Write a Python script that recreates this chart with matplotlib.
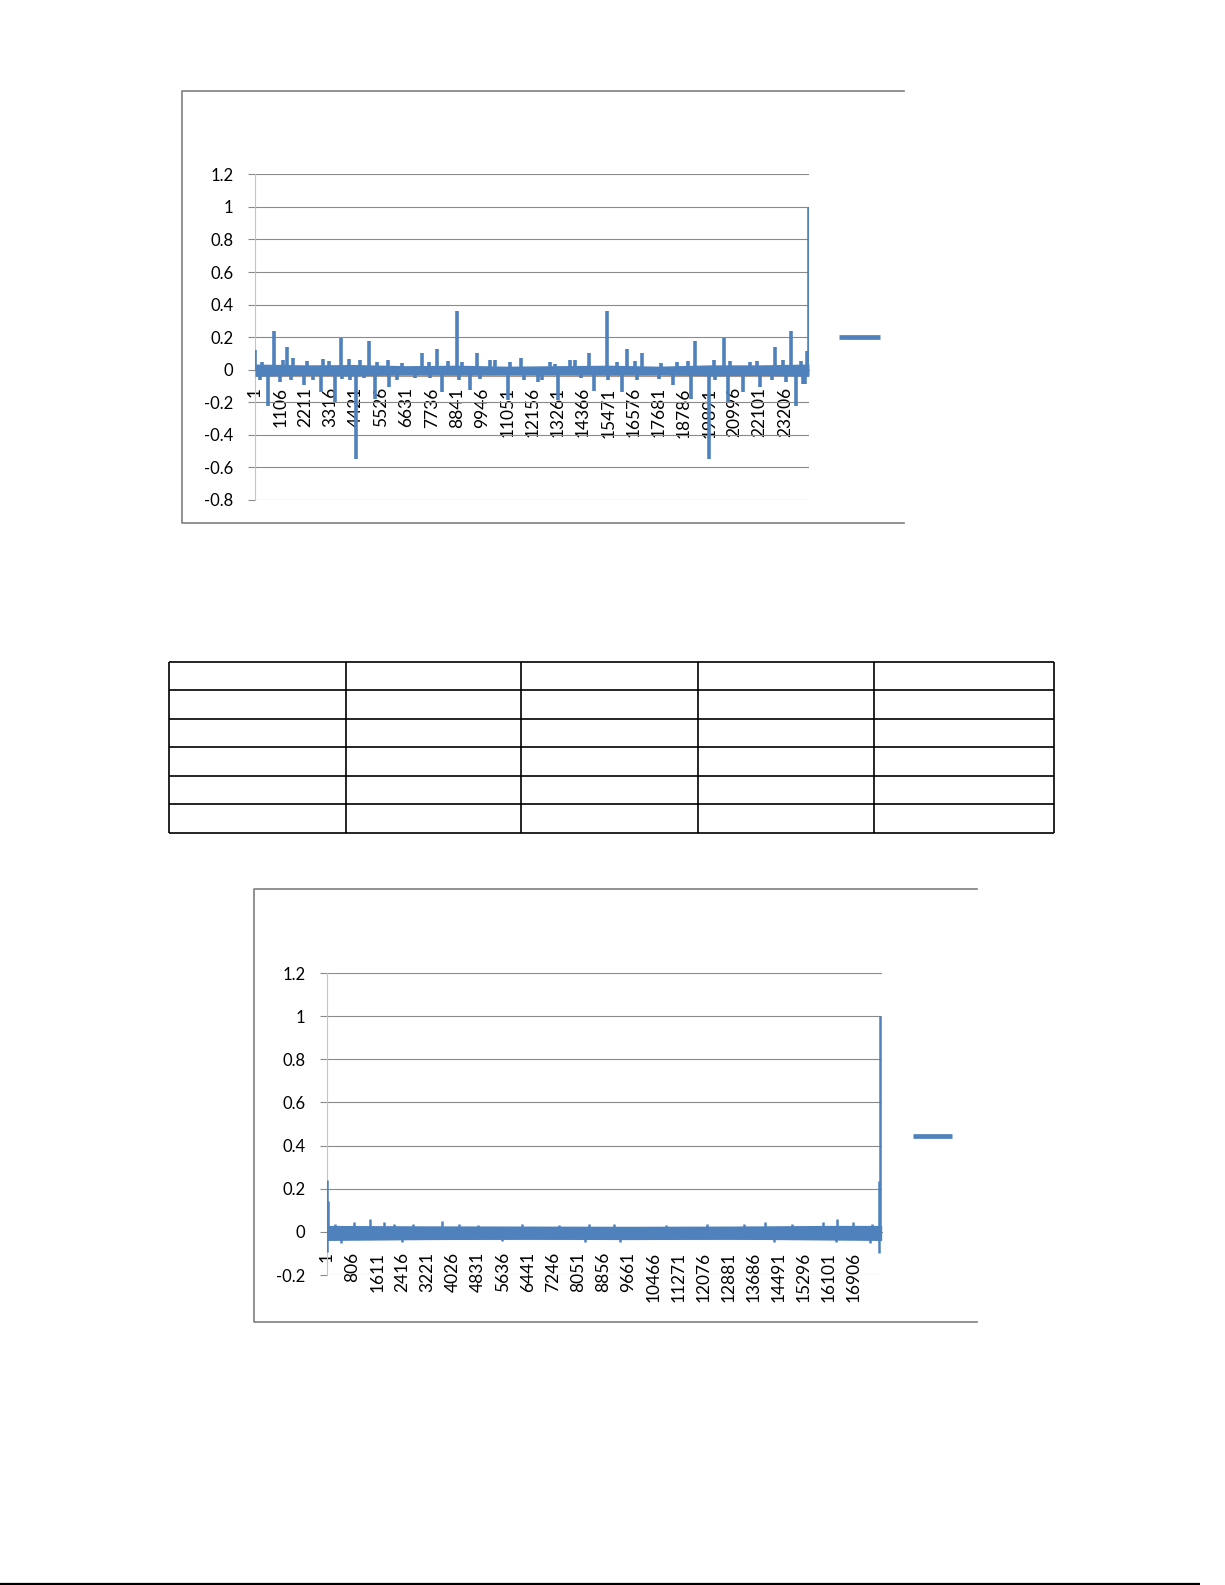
import matplotlib
matplotlib.use('Agg')
import matplotlib.pyplot as plt

plt.rcParams['font.family'] = ['Lato', 'DejaVu Sans']

BLUE = '#4f81bd'
GRID = '#8a8a8a'
TAN = '#a8998c'
FRAME = '#7f7f7f'

# ---------------- chart 1 ----------------
n1 = 24260
x1_ticks = [1, 1106, 2211, 3316, 4421, 5526, 6631, 7736, 8841, 9946, 11051,
            12156, 13261, 14366, 15471, 16576, 17681, 18786, 19891, 20996,
            22101, 23206]
y1_ticks = [-0.8, -0.6, -0.4, -0.2, 0, 0.2, 0.4, 0.6, 0.8, 1.0, 1.2]
y1_labels = ['-0.8', '-0.6', '-0.4', '-0.2', '0', '0.2', '0.4', '0.6', '0.8', '1', '1.2']

peak1_idx = [1, 826, 1416, 1655, 3777, 4973, 7318, 7957, 8850, 9711, 11658,
             14625, 15423, 16300, 16938, 19283, 20527, 22793, 23463, 24159, 24245,
             586, 1097, 2134, 2884, 3522, 4415, 5245, 5851, 8196, 9424, 11067,
             12392, 13269, 14848, 16061, 18326, 19076, 19889, 20719, 21357,
             22107, 23703, 24069]
peak1_val = [0.12, 0.235, 0.14, 0.075, 0.196, 0.176, 0.10, 0.127, 0.36, 0.104, 0.07,
             0.10, 0.36, 0.13, 0.10, 0.176, 0.196, 0.14, 0.237, 0.115, 1.0,
             -0.225, -0.076, -0.096, -0.137, -0.20, -0.546, -0.178, -0.106, -0.137,
             -0.127, -0.188, -0.076, -0.188, -0.13, -0.137, -0.096, -0.178, -0.546,
             -0.20, -0.137, -0.106, -0.225, -0.086]

small1_idx = [299, 1224, 2293, 2979, 3250, 4128, 4606, 5324, 5803, 6441, 7638,
              8435, 9073, 10270, 10509, 11147, 12902, 13141, 13780, 14019, 15853,
              16651, 17768, 18486, 18964, 20081, 20799, 21676, 21995, 23112, 23910,
              219, 1575, 2533, 3809, 4150, 4766, 6202, 6999, 7660, 8914, 9871,
              11785, 12583, 14258, 15455, 16731, 17688, 20161, 22634, 23272, 23990]
small1_val = [0.047, 0.061, 0.053, 0.067, 0.053, 0.067, 0.061, 0.047, 0.061, 0.04, 0.047,
              0.053, 0.047, 0.061, 0.061, 0.047, 0.047, 0.037, 0.061, 0.061, 0.047,
              0.053, 0.04, 0.047, 0.053, 0.061, 0.053, 0.047, 0.053, 0.061, 0.053,
              -0.065, -0.065, -0.061, -0.055, -0.061, -0.049, -0.061, -0.049, -0.049,
              -0.061, -0.055, -0.061, -0.065, -0.049, -0.065, -0.065, -0.055, -0.061,
              -0.065, -0.076, -0.086]

band1_idx = [1, 2211, 4421, 6631, 8841, 11051, 13261, 15471, 17681, 19891, 22101, 24260]
band1_hi = [0.035, 0.030, 0.032, 0.025, 0.028, 0.022, 0.025, 0.028, 0.022, 0.030, 0.030, 0.035]
band1_lo = [-0.040, -0.035, -0.038, -0.030, -0.032, -0.030, -0.030, -0.032, -0.030,
            -0.038, -0.035, -0.040]
trend1_idx = [1, 24260]
trend1_val = [-0.036, -0.036]

# ---------------- chart 2 ----------------
n2 = 17790
x2_ticks = [1, 806, 1611, 2416, 3221, 4026, 4831, 5636, 6441, 7246, 8051, 8856,
            9661, 10466, 11271, 12076, 12881, 13686, 14491, 15296, 16101, 16906]
y2_ticks = [-0.2, 0, 0.2, 0.4, 0.6, 0.8, 1.0, 1.2]
y2_labels = ['-0.2', '0', '0.2', '0.4', '0.6', '0.8', '1', '1.2']

peak2_idx = [1, 6, 40, 17703, 17714, 17735]
peak2_val = [0.24, -0.095, 0.145, 0.235, -0.096, 1.0]

small2_idx = [878, 1365, 1839, 3678, 14060, 15899, 16362, 16860,
              261, 2160, 2753, 4236, 4829, 6253, 7440, 8389, 9219, 10880, 12186,
              13372, 14914, 17465,
              439, 2397, 5600, 8270, 9397, 14321, 16338, 17406]
small2_val = [0.047, 0.06, 0.044, 0.05, 0.048, 0.044, 0.058, 0.047,
              0.036, 0.035, 0.036, 0.035, 0.034, 0.035, 0.034, 0.035, 0.035, 0.034,
              0.035, 0.036, 0.035, 0.038,
              -0.05, -0.047, -0.042, -0.045, -0.047, -0.048, -0.047, -0.05]

band2_idx = [1, 3221, 6441, 9661, 12881, 16101, 17790]
band2_hi = [0.030, 0.028, 0.027, 0.026, 0.027, 0.030, 0.030]
band2_lo = [-0.040, -0.036, -0.034, -0.036, -0.034, -0.038, -0.040]
trend2_idx = [1, 17790]
trend2_val = [-0.034, -0.034]

W, H = 1225, 1585
fig = plt.figure(figsize=(W / 100, H / 100), dpi=100)
fig.patch.set_facecolor('white')


def px_axes(left, top, right, bottom):
    return fig.add_axes([left / W, 1 - bottom / H, (right - left) / W, (bottom - top) / H])


def draw_chart(ax, n, xticks, yticks, ylabels, band_idx, band_hi, band_lo,
               trend_idx, trend_val, small_idx, small_val, peak_idx, peak_val,
               lw, xpad):
    ax.set_facecolor('none')
    # spine position first: moving it resets the tick objects
    for s in ['top', 'right']:
        ax.spines[s].set_visible(False)
    ax.spines['left'].set_color('#c4c4c4')
    ax.spines['left'].set_linewidth(0.8)
    ax.spines['bottom'].set_position(('data', 0))
    ax.spines['bottom'].set_color(GRID)
    ax.spines['bottom'].set_linewidth(0.8)

    ax.set_xlim(0.5, n + 0.5)
    ax.set_ylim(yticks[0], yticks[-1])
    ax.set_yticks(yticks)
    ax.set_yticklabels(ylabels)
    ax.set_xticks(xticks)
    ax.set_xticklabels([str(t) for t in xticks])
    ax.yaxis.grid(True, color=GRID, lw=0.8)
    ax.set_axisbelow(True)
    ax.tick_params(axis='y', length=5, width=0.8, color=GRID, pad=10.6,
                   labelsize=12, labelcolor='black')
    ax.tick_params(axis='x', length=0, pad=xpad, labelsize=12.5, labelcolor='black',
                   labelrotation=90)
    for lab in ax.get_xticklabels():
        lab.set_va('top')
        lab.set_ha('center')

    ax.plot(trend_idx, trend_val, color=TAN, lw=1.5, zorder=2)
    ax.fill_between(band_idx, band_lo, band_hi, color=BLUE, lw=0, zorder=3)
    ax.vlines(small_idx, 0, small_val, color=BLUE, lw=lw, zorder=4)
    ax.vlines(peak_idx, 0, peak_val, color=BLUE, lw=lw, zorder=4)


ax1 = px_axes(255, 174.3, 809, 500)
draw_chart(ax1, n1, x1_ticks, y1_ticks, y1_labels, band1_idx, band1_hi, band1_lo,
           trend1_idx, trend1_val, small1_idx, small1_val, peak1_idx, peak1_val,
           lw=2.6, xpad=12.6)

ax2 = px_axes(327, 973, 881.7, 1275)
draw_chart(ax2, n2, x2_ticks, y2_ticks, y2_labels, band2_idx, band2_hi, band2_lo,
           trend2_idx, trend2_val, small2_idx, small2_val, peak2_idx, peak2_val,
           lw=1.8, xpad=14.4)

# page layer: chart frames, legend keys, empty table, bottom rule
pg = fig.add_axes([0, 0, 1, 1], zorder=-1)
pg.set_xlim(0, W)
pg.set_ylim(H, 0)
pg.axis('off')

pg.plot([904, 181.6, 181.6, 904], [91, 91, 522.7, 522.7], color=FRAME, lw=1.2)
pg.plot([977, 254, 254, 977], [889, 889, 1322, 1322], color=FRAME, lw=1.2)

pg.plot([839, 880], [336.7, 336.7], color=BLUE, lw=3.4, solid_capstyle='butt')
pg.plot([912.7, 952], [1135.7, 1135.7], color=BLUE, lw=3.4, solid_capstyle='butt')

table_cols = [169.2, 345.6, 521.4, 697.9, 874.3, 1054]
table_rows = [661.7, 690.3, 718.7, 747.3, 775.7, 804.3, 833.3]
pg.hlines(table_rows, table_cols[0], table_cols[-1], color='black', lw=1.2)
pg.vlines(table_cols, table_rows[0], table_rows[-1], color='black', lw=1.2)

pg.hlines([1584], 0, 1200, color='black', lw=1.6)

fig.savefig('out.png', dpi=100)
